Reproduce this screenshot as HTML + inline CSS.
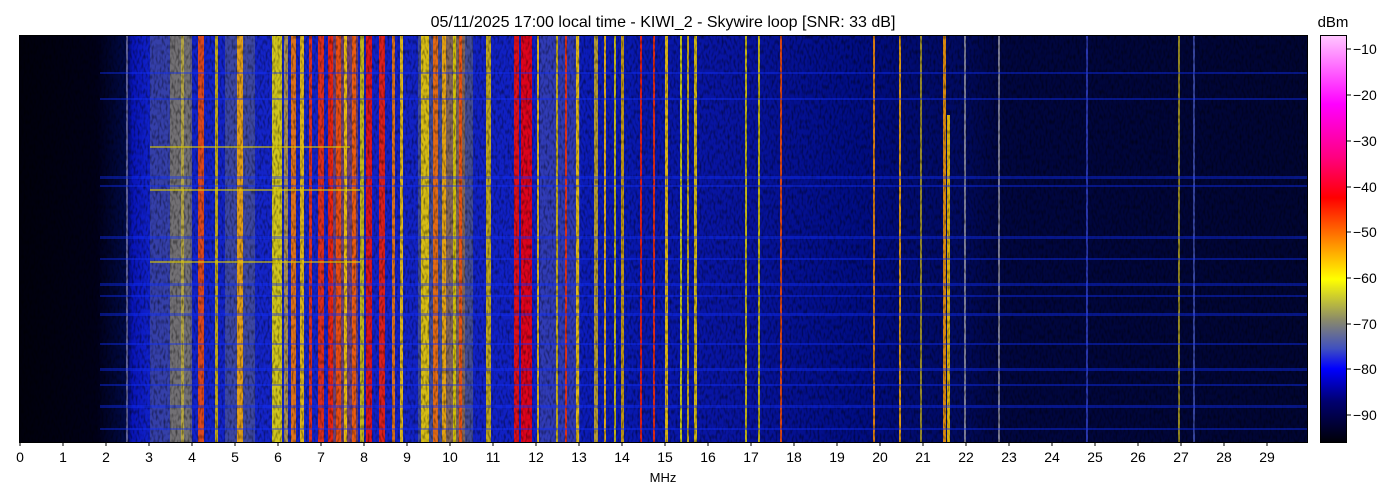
<!DOCTYPE html>
<html><head><meta charset="utf-8"><style>
body{margin:0;background:#fff;width:1400px;height:500px;overflow:hidden}
svg{display:block}
text{font-family:"Liberation Sans","DejaVu Sans",sans-serif;fill:#000}
</style></head><body>
<svg width="1400" height="500" viewBox="0 0 1400 500">
<defs>
<linearGradient id="bg" x1="19" x2="1307" y1="0" y2="0" gradientUnits="userSpaceOnUse">
<stop offset="0" stop-color="#00000c"/>
<stop offset="0.06" stop-color="#000018"/>
<stop offset="0.083" stop-color="#000a48"/>
<stop offset="0.088" stop-color="#0814b8"/>
<stop offset="0.1" stop-color="#1020c8"/>
<stop offset="0.2" stop-color="#1424c8"/>
<stop offset="0.4" stop-color="#1020c4"/>
<stop offset="0.47" stop-color="#0818b0"/>
<stop offset="0.55" stop-color="#0814a0"/>
<stop offset="0.66" stop-color="#000c80"/>
<stop offset="0.73" stop-color="#000a60"/>
<stop offset="0.76" stop-color="#000640"/>
<stop offset="1" stop-color="#000532"/>
</linearGradient>
<linearGradient id="cb" x1="0" x2="0" y1="35" y2="442" gradientUnits="userSpaceOnUse">
<stop offset="0" stop-color="#ffc8ff"/>
<stop offset="0.17" stop-color="#ff00ff"/>
<stop offset="0.3" stop-color="#ff0080"/>
<stop offset="0.4" stop-color="#ff0000"/>
<stop offset="0.5" stop-color="#ff8000"/>
<stop offset="0.6" stop-color="#ffff00"/>
<stop offset="0.7" stop-color="#8a8a6a"/>
<stop offset="0.77" stop-color="#4050c0"/>
<stop offset="0.82" stop-color="#0000ff"/>
<stop offset="0.9" stop-color="#000070"/>
<stop offset="1" stop-color="#000008"/>
</linearGradient>
<filter id="nz" x="0" y="0" width="100%" height="100%">
<feTurbulence type="fractalNoise" baseFrequency="0.5 0.2" numOctaves="1" seed="3"/>
<feColorMatrix values="0 0 0 0 0  0 0 0 0 0  0 0 0 0 0  0 0 0 2.5 -1.1"/>
</filter>
</defs>
<text x="663" y="27" font-size="16" text-anchor="middle">05/11/2025 17:00 local time - KIWI_2 - Skywire loop [SNR: 33 dB]</text>
<g>
<rect x="19" y="35" width="1288" height="407" fill="url(#bg)"/>
<g opacity="0.35">
<rect x="150" y="35" width="40" height="407" fill="#7a7a70"/>
<rect x="225" y="35" width="30" height="407" fill="#8a8a60"/>
<rect x="418" y="35" width="55" height="407" fill="#9a9a40"/>
<rect x="540" y="35" width="40" height="407" fill="#7070a0"/>
</g>
<g opacity="0.5">
<rect x="170" y="35" width="22" height="407" fill="#b0a040"/>
<rect x="330" y="35" width="28" height="407" fill="#d06020"/>
<rect x="445" y="35" width="20" height="407" fill="#c08020"/>
</g>
<g opacity="0.85">
<rect x="126" y="35" width="2" height="407" fill="#7070a0"/>
<rect x="181" y="35" width="3" height="407" fill="#c0b040"/>
<rect x="198" y="35" width="6" height="407" fill="#ff5000"/>
<rect x="215" y="35" width="3" height="407" fill="#e0c000"/>
<rect x="237" y="35" width="6" height="407" fill="#ffb000"/>
<rect x="272" y="35" width="10" height="407" fill="#f0e000"/>
<rect x="284" y="35" width="4" height="407" fill="#c0a040"/>
<rect x="291" y="35" width="5" height="407" fill="#ff8000"/>
<rect x="300" y="35" width="4" height="407" fill="#ffd000"/>
<rect x="309" y="35" width="3" height="407" fill="#ff3000"/>
<rect x="318" y="35" width="6" height="407" fill="#ff3000"/>
<rect x="328" y="35" width="5" height="407" fill="#ff2000"/>
<rect x="336" y="35" width="5" height="407" fill="#ff5000"/>
<rect x="344" y="35" width="3" height="407" fill="#ffd000"/>
<rect x="352" y="35" width="4" height="407" fill="#ff6000"/>
<rect x="360" y="35" width="4" height="407" fill="#e0d000"/>
<rect x="366" y="35" width="6" height="407" fill="#ff1000"/>
<rect x="379" y="35" width="6" height="407" fill="#ff2000"/>
<rect x="392" y="35" width="3" height="407" fill="#ff8000"/>
<rect x="400" y="35" width="3" height="407" fill="#ffd000"/>
<rect x="421" y="35" width="8" height="407" fill="#f0d000"/>
<rect x="433" y="35" width="5" height="407" fill="#ff7000"/>
<rect x="442" y="35" width="4" height="407" fill="#ffb000"/>
<rect x="453" y="35" width="3" height="407" fill="#e0d000"/>
<rect x="459" y="35" width="3" height="407" fill="#ff5000"/>
<rect x="486" y="35" width="5" height="407" fill="#e0c000"/>
<rect x="514" y="35" width="5" height="407" fill="#ff1000"/>
<rect x="521" y="35" width="11" height="407" fill="#ff0000"/>
<rect x="537" y="35" width="2" height="407" fill="#ffd000"/>
<rect x="556" y="35" width="2" height="407" fill="#e0c000"/>
<rect x="565" y="35" width="2" height="407" fill="#ff3000"/>
<rect x="576" y="35" width="3" height="407" fill="#ffd000"/>
<rect x="594" y="35" width="4" height="407" fill="#d0b020"/>
<rect x="604" y="35" width="2" height="407" fill="#ffc000"/>
<rect x="614" y="35" width="2" height="407" fill="#e0d000"/>
<rect x="621" y="35" width="3" height="407" fill="#e0b000"/>
<rect x="640" y="35" width="2" height="407" fill="#ff2000"/>
<rect x="653" y="35" width="2" height="407" fill="#ff3000"/>
<rect x="665" y="35" width="3" height="407" fill="#ffd000"/>
<rect x="680" y="35" width="2" height="407" fill="#e0e000"/>
<rect x="687" y="35" width="2" height="407" fill="#e0c000"/>
<rect x="694" y="35" width="3" height="407" fill="#f0d000"/>
<rect x="745" y="35" width="2" height="407" fill="#e0d000"/>
<rect x="758" y="35" width="2" height="407" fill="#e0d000"/>
<rect x="780" y="35" width="2" height="407" fill="#ff5000"/>
<rect x="873" y="35" width="2" height="407" fill="#ff9000"/>
<rect x="899" y="35" width="2" height="407" fill="#ffb000"/>
<rect x="920" y="35" width="2" height="407" fill="#b0a020"/>
<rect x="943" y="35" width="3" height="407" fill="#ffa000"/>
<rect x="947" y="115" width="3" height="327" fill="#ffd000"/>
<rect x="964" y="35" width="2" height="407" fill="#9090a0"/>
<rect x="998" y="35" width="2" height="407" fill="#9090a0"/>
<rect x="1086" y="35" width="2" height="407" fill="#3040c0"/>
<rect x="1178" y="35" width="2" height="407" fill="#b0a020"/>
<rect x="1193" y="35" width="2" height="407" fill="#4050b0"/>
</g>
<rect x="19" y="35" width="1288" height="407" fill="#000" filter="url(#nz)" opacity="0.5"/>
<g opacity="0.55">
<rect x="150" y="146" width="200" height="2" fill="#e0d000"/>
<rect x="150" y="189" width="210" height="2" fill="#e0d000"/>
<rect x="150" y="261" width="210" height="2" fill="#e0d000"/>
</g>
<g fill="#1030ff" opacity="0.4">
<rect x="100" y="72" width="1207" height="2"/>
<rect x="100" y="98" width="1207" height="2"/>
<rect x="100" y="176" width="1207" height="3"/>
<rect x="100" y="185" width="1207" height="2"/>
<rect x="100" y="236" width="1207" height="3"/>
<rect x="100" y="258" width="1207" height="2"/>
<rect x="100" y="283" width="1207" height="3"/>
<rect x="100" y="295" width="1207" height="2"/>
<rect x="100" y="313" width="1207" height="3"/>
<rect x="100" y="343" width="1207" height="2"/>
<rect x="100" y="368" width="1207" height="3"/>
<rect x="100" y="384" width="1207" height="2"/>
<rect x="100" y="405" width="1207" height="3"/>
<rect x="100" y="428" width="1207" height="2"/>
</g>
</g>
<rect x="19.5" y="35.5" width="1288" height="407" fill="none" stroke="#000" stroke-width="1"/>
<g stroke="#000" stroke-width="1">
<path d="M20 442v4M63 442v4M106 442v4M149 442v4M192 442v4M235 442v4M278 442v4M321 442v4M364 442v4M407 442v4M450 442v4M493 442v4M536 442v4M579 442v4M622 442v4M665 442v4M708 442v4M751 442v4M794 442v4M837 442v4M880 442v4M923 442v4M966 442v4M1009 442v4M1052 442v4M1095 442v4M1138 442v4M1181 442v4M1224 442v4M1267 442v4"/>
</g>
<g font-size="14" text-anchor="middle">
<text x="20" y="462">0</text><text x="63" y="462">1</text><text x="106" y="462">2</text><text x="149" y="462">3</text><text x="192" y="462">4</text><text x="235" y="462">5</text><text x="278" y="462">6</text><text x="321" y="462">7</text><text x="364" y="462">8</text><text x="407" y="462">9</text><text x="450" y="462">10</text><text x="493" y="462">11</text><text x="536" y="462">12</text><text x="579" y="462">13</text><text x="622" y="462">14</text><text x="665" y="462">15</text><text x="708" y="462">16</text><text x="751" y="462">17</text><text x="794" y="462">18</text><text x="837" y="462">19</text><text x="880" y="462">20</text><text x="923" y="462">21</text><text x="966" y="462">22</text><text x="1009" y="462">23</text><text x="1052" y="462">24</text><text x="1095" y="462">25</text><text x="1138" y="462">26</text><text x="1181" y="462">27</text><text x="1224" y="462">28</text><text x="1267" y="462">29</text>
</g>
<text x="663" y="482" font-size="13" text-anchor="middle">MHz</text>
<rect x="1320.5" y="35.5" width="26" height="407" fill="url(#cb)" stroke="#000" stroke-width="1"/>
<g stroke="#000"><path d="M1347 49h4M1347 95h4M1347 141h4M1347 187h4M1347 232h4M1347 278h4M1347 324h4M1347 369h4M1347 415h4"/></g>
<g font-size="14">
<text x="1353" y="54">−10</text><text x="1353" y="100">−20</text><text x="1353" y="146">−30</text><text x="1353" y="192">−40</text><text x="1353" y="237">−50</text><text x="1353" y="283">−60</text><text x="1353" y="329">−70</text><text x="1353" y="374">−80</text><text x="1353" y="420">−90</text>
</g>
<text x="1333" y="27" font-size="15" text-anchor="middle">dBm</text>
</svg>
</body></html>
